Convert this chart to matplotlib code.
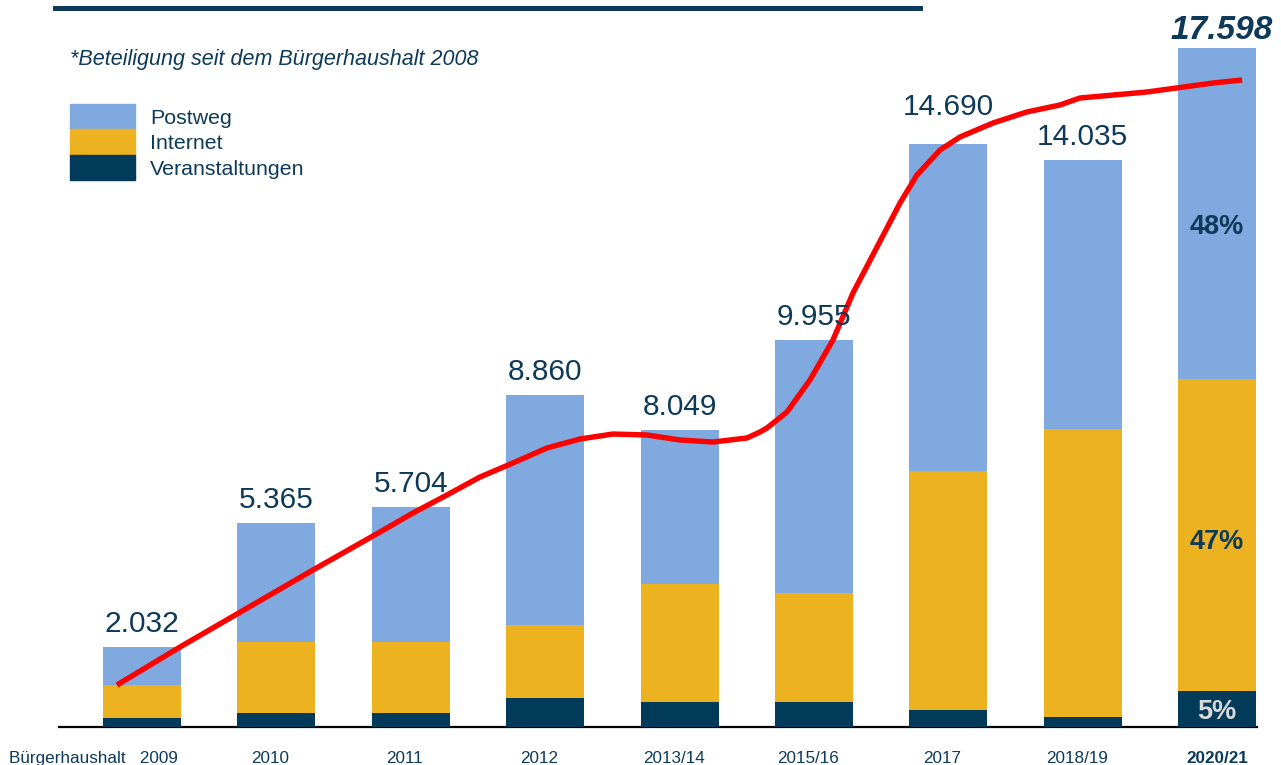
import numpy as np
import matplotlib
matplotlib.use("Agg")
import matplotlib.pyplot as plt
from matplotlib.lines import Line2D
from matplotlib.patches import Patch
from matplotlib.transforms import ScaledTranslation

plt.rcParams['font.family'] = ['Liberation Sans', 'DejaVu Sans']

# data (participants)
years = ['2009', '2010', '2011', '2012', '2013/14', '2015/16', '2017', '2018/19', '2020/21']
total_labels = ['2.032', '5.365', '5.704', '8.860', '8.049', '9.955', '14.690', '14.035', '17.598']
veranstaltungen = [230, 360, 360, 760, 650, 650, 440, 260, 940]
internet = [860, 1850, 1850, 1880, 3070, 2830, 6210, 7490, 8110]
postweg = [990, 3090, 3510, 5980, 4000, 6580, 8500, 6990, 8610]
share_last = ['5%', '47%', '48%']

# hand drawn red trend line (x in bar index units, y in participants)
trend_x = [-0.186, 0.283, 1.272, 1.771, 2.016, 2.269, 2.515, 2.760, 3.013, 3.259, 3.504,
           3.757, 4.003, 4.249, 4.501, 4.598, 4.650, 4.799, 4.970, 5.141, 5.290, 5.469,
           5.640, 5.766, 5.938, 6.086, 6.332, 6.583, 6.830, 6.979, 7.478, 7.969, 8.185]
trend_y = [1092, 2080, 4082, 5070, 5564, 6032, 6500, 6864, 7254, 7488, 7618,
           7592, 7462, 7410, 7514, 7670, 7774, 8190, 9022, 10062, 11284, 12480,
           13624, 14352, 15002, 15340, 15704, 15990, 16172, 16354, 16510, 16744, 16822]

navy = '#0E3A5A'
c_post = '#80AADF'
c_int = '#EDB220'
c_ver = '#023A59'

fig = plt.figure(figsize=(12.81, 7.65), dpi=100)
ax = fig.add_axes([0, 38 / 765, 1, 727 / 765])

x = np.arange(len(years))
w = 0.58
v = np.array(veranstaltungen)
i = np.array(internet)
p = np.array(postweg)

ax.bar(x, v, w, color=c_ver, zorder=2)
ax.bar(x, i, w, bottom=v, color=c_int, zorder=2)
ax.bar(x, p, w, bottom=v + i, color=c_post, zorder=2)
tops = v + i + p

ax.axhline(0, xmin=59 / 1281, xmax=1257 / 1281, color='black', lw=1.6, zorder=1, clip_on=False)

for k in range(len(years)):
    if k == len(years) - 1:
        ax.annotate(total_labels[k], (x[k], tops[k]), xytext=(3, 6), textcoords='offset points',
                    ha='center', va='baseline', fontsize=24, fontweight='bold', fontstyle='italic',
                    color=navy, zorder=5)
    else:
        dy = 21 if years[k] == '2017' else 11
        ax.annotate(total_labels[k], (x[k], tops[k]), xytext=(0, dy), textcoords='offset points',
                    ha='center', va='baseline', fontsize=21.5, color=navy, zorder=5)

# shares inside the last bar
last = len(years) - 1
bottoms = [0, v[last], v[last] + i[last]]
heights = [v[last], i[last], p[last]]
for s, b, h, col, off in zip(share_last, bottoms, heights, ['#D9D9D9', navy, navy], [-80, -180, -360]):
    ax.text(x[last], b + h / 2 + off, s, ha='center', va='center', fontsize=19.5,
            fontweight='bold', color=col, zorder=5)

ax.plot(trend_x, trend_y, color='#FF0000', lw=3.9, solid_capstyle='butt',
        solid_joinstyle='round', zorder=4)

ax.set_xlim(-142 / 134.4, (1281 - 142) / 134.4)
ax.set_ylim(0, 727 * 26)
for sp in ax.spines.values():
    sp.set_visible(False)
ax.set_yticks([])
labels = list(years)
labels[0] = 'Bürgerhaushalt   2009'
ax.set_xticks(x)
ax.set_xticklabels(labels, fontsize=12.3, color=navy)
ax.tick_params(axis='x', length=0, pad=17)
tl = ax.get_xticklabels()
tl[0].set_ha('right')
tl[0].set_transform(tl[0].get_transform() + ScaledTranslation(0.36, 0, fig.dpi_scale_trans))
for t in tl[1:-1]:
    t.set_transform(t.get_transform() + ScaledTranslation(-0.06, 0, fig.dpi_scale_trans))
tl[-1].set_fontweight('bold')

# legend
handles = [Patch(color=c_post, label='Postweg'),
           Patch(color=c_int, label='Internet'),
           Patch(color=c_ver, label='Veranstaltungen')]
fig.legend(handles=handles, loc='upper left', bbox_to_anchor=(70 / 1281, 1 - 104 / 765),
           frameon=False, fontsize=15.4, handlelength=3.04, handleheight=1.45,
           labelspacing=0, handletextpad=0.7, borderpad=0, borderaxespad=0, labelcolor=navy)

fig.text(70 / 1281, 1 - 60 / 765, '*Beteiligung seit dem Bürgerhaushalt 2008',
         fontsize=15.5, fontstyle='italic', color=navy, va='center', ha='left')

fig.add_artist(Line2D([55 / 1281, 920 / 1281], [1 - 7.5 / 765] * 2, lw=3.6, color=navy))

fig.savefig('out.png', dpi=100)
